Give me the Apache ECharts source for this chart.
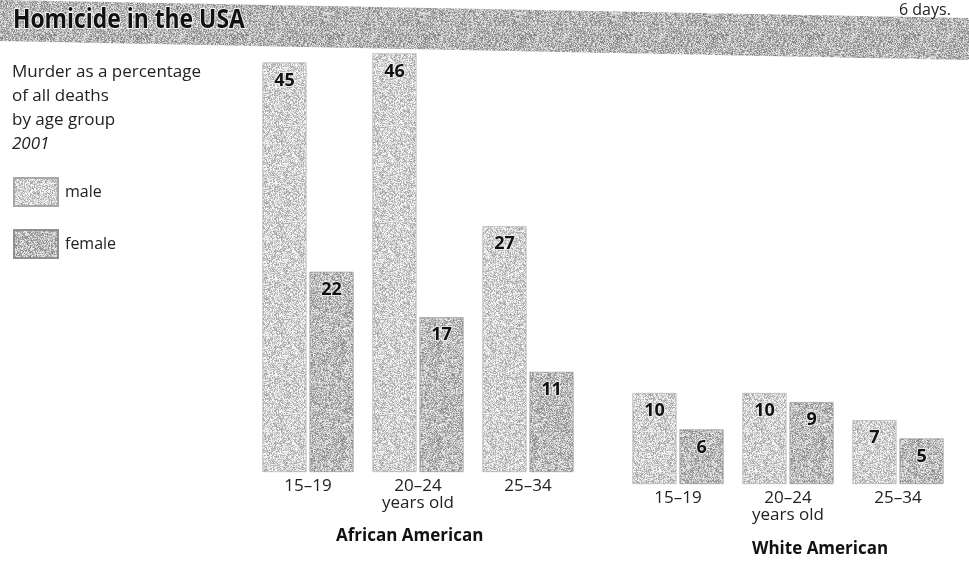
<!DOCTYPE html>
<html>
<head>
<meta charset="utf-8">
<script src="https://cdn.jsdelivr.net/npm/echarts@6/dist/echarts.min.js"></script>
<style>
  html, body { margin: 0; padding: 0; background: #ffffff; }
  #chart { width: 969px; height: 571px; }
</style>
</head>
<body>
<div id="chart"></div>
<script>
// ---- data ----
const ageGroups = ['15–19', '20–24\nyears old', '25–34'];
const africanMale = [45, 46, 27];
const africanFemale = [22, 17, 11];
const whiteMale = [10, 10, 7];
const whiteFemale = [6, 9, 5];
const groupNames = ['African American', 'White American'];
const seriesNames = ['male', 'female'];
const noteLines = ['Murder as a percentage', 'of all deaths', 'by age group'];
const noteYear = '2001';
const titleText = 'Homicide in the USA';
const cornerText = '6 days.';

// ---- deterministic grain texture (styling only) ----
function grain(base, spread, seed) {
  const size = 96;
  const c = document.createElement('canvas');
  c.width = size; c.height = size;
  const ctx = c.getContext('2d');
  const img = ctx.createImageData(size, size);
  let s = seed;
  for (let i = 0; i < size * size; i++) {
    s = (s * 1103515245 + 12345) & 0x7fffffff;
    const v = Math.max(0, Math.min(255, base + ((s >> 12) % spread) - spread / 2));
    img.data[i * 4] = v; img.data[i * 4 + 1] = v; img.data[i * 4 + 2] = v; img.data[i * 4 + 3] = 255;
  }
  ctx.putImageData(img, 0, 0);
  return { image: c, repeat: 'repeat' };
}
const maleFill = grain(210, 100, 7);
const femaleFill = grain(188, 110, 13);
const bannerFill = grain(182, 110, 29);

const FONT = "'Open Sans', 'Noto Sans', sans-serif";

const labelStyle = {
  show: true,
  position: 'insideTop',
  distance: 9,
  fontFamily: FONT,
  fontWeight: 'bold',
  fontSize: 18,
  color: '#111',
  textBorderColor: 'rgba(235,235,235,0.9)',
  textBorderWidth: 2
};

function xAx(gi) {
  return {
    type: 'category', gridIndex: gi, data: ageGroups,
    axisLine: { show: false }, axisTick: { show: false },
    axisLabel: { margin: 6, fontFamily: FONT, fontSize: 17, color: '#222', lineHeight: 17, interval: 0 }
  };
}
function yAx(gi) {
  return { type: 'value', gridIndex: gi, min: 0, max: 50, show: false, splitLine: { show: false } };
}
function bar(name, data, gi, fill, edge) {
  return {
    name: name, type: 'bar', xAxisIndex: gi, yAxisIndex: gi, data: data,
    barWidth: 44, barGap: '7%',
    itemStyle: { color: fill, borderColor: edge, borderWidth: 0.6 },
    label: labelStyle, silent: true
  };
}

const chart = echarts.init(document.getElementById('chart'));
chart.setOption({
  backgroundColor: '#ffffff',
  animation: false,
  grid: [
    { left: 253, width: 330, top: 17, height: 455 },
    { left: 623, width: 330, top: 29, height: 455 }
  ],
  xAxis: [xAx(0), xAx(1)],
  yAxis: [yAx(0), yAx(1)],
  legend: {
    orient: 'vertical', left: 8, top: 172,
    icon: 'rect',
    itemWidth: 44, itemHeight: 28, itemGap: 22,
    data: seriesNames,
    textStyle: { fontFamily: FONT, fontSize: 16, color: '#222', padding: [0, 0, 0, 2] },
    selectedMode: false
  },
  series: [
    bar(seriesNames[0], africanMale, 0, maleFill, '#a8a8a8'),
    bar(seriesNames[1], africanFemale, 0, femaleFill, '#909090'),
    bar(seriesNames[0], whiteMale, 1, maleFill, '#a8a8a8'),
    bar(seriesNames[1], whiteFemale, 1, femaleFill, '#909090')
  ],
  graphic: [
    { type: 'polygon', z: -1, shape: { points: [[0, 0], [969, 18], [969, 60], [0, 41]] }, style: { fill: bannerFill } },
    { type: 'text', left: 12, top: 7, style: { text: titleText, fontFamily: FONT, fontWeight: 'bold', fontSize: 26, fill: '#111', stroke: '#f2f2f2', lineWidth: 2 }, scaleX: 0.88 },
    { type: 'text', left: 899, top: 2, style: { text: cornerText, fontFamily: FONT, fontSize: 16, fill: '#222' } },
    { type: 'text', left: 12, top: 64, style: { text: noteLines[0], fontFamily: FONT, fontSize: 17, fill: '#222' } },
    { type: 'text', left: 12, top: 88, style: { text: noteLines[1], fontFamily: FONT, fontSize: 17, fill: '#222' } },
    { type: 'text', left: 12, top: 112, style: { text: noteLines[2], fontFamily: FONT, fontSize: 17, fill: '#222' } },
    { type: 'text', left: 12, top: 136, style: { text: noteYear, fontFamily: FONT, fontSize: 17, fontStyle: 'italic', fill: '#222' } },
    { type: 'text', left: 336, top: 528, style: { text: groupNames[0], fontFamily: FONT, fontWeight: 'bold', fontSize: 17, fill: '#111' } },
    { type: 'text', left: 752, top: 541, style: { text: groupNames[1], fontFamily: FONT, fontWeight: 'bold', fontSize: 17, fill: '#111' } }
  ]
});
</script>
</body>
</html>
